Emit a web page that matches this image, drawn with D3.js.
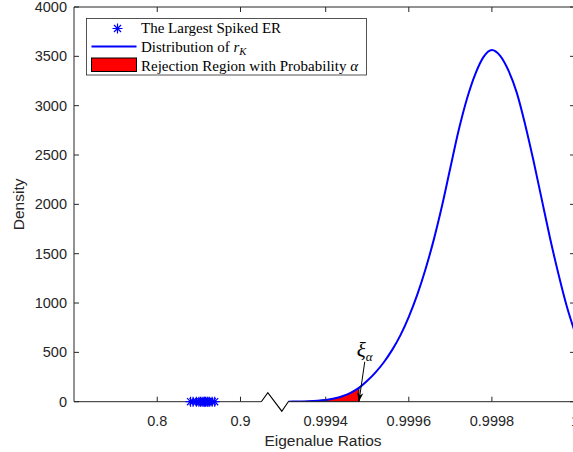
<!DOCTYPE html>
<html><head><meta charset="utf-8">
<script src="https://cdn.jsdelivr.net/npm/d3@7"></script>
<style>
html,body{margin:0;padding:0;background:#fff;overflow:hidden}
svg{display:block}
</style></head>
<body>
<svg id="chart" width="573" height="452"></svg>
<script>
// ---------- data ----------
const densityX = [0.99931,0.99932,0.99934,0.99936,0.99938,0.99940,0.99942,0.99944,0.99946,0.99948,
  0.99950,0.99952,0.99954,0.99956,0.99958,0.99960,0.99962,0.99964,0.99966,0.99968,
  0.99970,0.99972,0.99974,0.99976,0.99978,0.99980,0.99982,0.99984,0.99986,0.99988,
  0.99990,0.99992,0.99994,0.99996,0.99998,1.00000];
const densityY = [0,1,2,5,10,18,32,55,90,140,
  212,298,400,525,675,860,1080,1340,1640,1985,
  2370,2750,3070,3320,3495,3565,3505,3355,3130,2810,
  2444,2050,1656,1297,970,700];
const spikedER = [0.840,0.843,0.847,0.850,0.852,0.854,0.856,0.857,0.858,0.860,0.861,0.863,0.866,0.869];
const xiAlpha = 0.99948;
const arrowFrom = {x:0.999494, y:405};
const labelPos = {x:0.999475, y:448};
const xTicks = [0.8,0.9,0.9994,0.9996,0.9998,1];
const xTickLabels = ["0.8","0.9","0.9994","0.9996","0.9998","1"];
const yTicks = [0,500,1000,1500,2000,2500,3000,3500,4000];
const breakLow = 0.925, breakHigh = 0.99931;

// ---------- layout ----------
const L=74, R=575, T=7, B=401.7;
const axisCol="#262626";
const svg=d3.select("#chart");
const x=d3.scaleLinear().domain([0.7,breakLow,breakHigh,1.0]).range([L,261.3,288.3,R]);
const y=d3.scaleLinear().domain([0,4000]).range([B,T]);

const data=densityX.map((d,i)=>({x:d,y:densityY[i]}));
const areaData=data.filter(d=>d.x<=xiAlpha+1e-12);

const defs=svg.append("defs");
defs.append("clipPath").attr("id","clip").append("rect").attr("x",L).attr("y",T).attr("width",R-L).attr("height",B-T);
defs.append("marker").attr("id","arr").attr("viewBox","0 0 10 10").attr("refX",10).attr("refY",5)
  .attr("markerWidth",9).attr("markerHeight",9).attr("orient","auto")
  .append("path").attr("d","M0,1.5 L10,5 L0,8.5 L3,5 Z").attr("fill","#000");

const g=svg.append("g");
const plot=g.append("g").attr("clip-path","url(#clip)");
plot.append("path").datum(areaData)
  .attr("d",d3.area().x(d=>x(d.x)).y0(y(0)).y1(d=>y(d.y)).curve(d3.curveMonotoneX))
  .attr("fill","#ff0000").attr("stroke","#000").attr("stroke-width",1);

// axes (box)
const ax=g.append("g").attr("stroke",axisCol).attr("stroke-width",1).attr("fill","none");
ax.append("line").attr("x1",L).attr("x2",R).attr("y1",T).attr("y2",T);
ax.append("line").attr("x1",L).attr("x2",L).attr("y1",T).attr("y2",B);
ax.append("line").attr("x1",R).attr("x2",R).attr("y1",T).attr("y2",B);
ax.append("line").attr("x1",L).attr("x2",x(breakLow)).attr("y1",B).attr("y2",B);
ax.append("line").attr("x1",x(breakHigh)).attr("x2",R).attr("y1",B).attr("y2",B);
ax.append("path").attr("stroke","#000").attr("stroke-width",1.1)
  .attr("d",`M${x(breakLow)},${B} L${x(breakLow)+6.5},${B-9} L${x(breakHigh)-6.5},${B+9.5} L${x(breakHigh)},${B}`);

xTicks.forEach(t=>{
  ax.append("line").attr("x1",x(t)).attr("x2",x(t)).attr("y1",B).attr("y2",B-5);
  ax.append("line").attr("x1",x(t)).attr("x2",x(t)).attr("y1",T).attr("y2",T+5);
});
yTicks.forEach(t=>{
  ax.append("line").attr("x1",L).attr("x2",L+5).attr("y1",y(t)).attr("y2",y(t));
  ax.append("line").attr("x1",R).attr("x2",R-5).attr("y1",y(t)).attr("y2",y(t));
});
const lab=g.append("g").attr("font-family","'Liberation Sans',Arial,sans-serif").attr("fill",axisCol).attr("font-size","14.5px");
xTicks.forEach((t,i)=>{
  lab.append("text").attr("x",x(t)).attr("y",426).attr("text-anchor","middle").text(xTickLabels[i]);
});
yTicks.forEach(t=>{
  lab.append("text").attr("x",67).attr("y",y(t)+5).attr("text-anchor","end").text(t);
});
lab.append("text").attr("x",323).attr("y",446).attr("text-anchor","middle").attr("font-size","15.5px").text("Eigenalue Ratios");
lab.append("text").attr("transform",`translate(24,${(T+B)/2}) rotate(-90)`).attr("text-anchor","middle").attr("font-size","15.5px").text("Density");

plot.append("path").datum(data)
  .attr("d",d3.line().x(d=>x(d.x)).y(d=>y(d.y)).curve(d3.curveMonotoneX))
  .attr("fill","none").attr("stroke","#0000ff").attr("stroke-width",2);

function star(sel,cx,cy,r){
  const p=[];
  for(let k=0;k<4;k++){const a=k*Math.PI/4;p.push(`M${cx-r*Math.cos(a)},${cy-r*Math.sin(a)}L${cx+r*Math.cos(a)},${cy+r*Math.sin(a)}`);}
  sel.append("path").attr("d",p.join("")).attr("stroke","#0000ff").attr("stroke-width",1.2).attr("fill","none");
}
const stars=g.append("g");
spikedER.forEach(v=>star(stars,x(v),y(0),5));

g.append("line").attr("x1",x(arrowFrom.x)).attr("y1",y(arrowFrom.y)).attr("x2",x(xiAlpha)).attr("y2",y(0))
  .attr("stroke","#000").attr("stroke-width",1).attr("marker-end","url(#arr)");
const ann=g.append("text").attr("x",x(labelPos.x)).attr("y",y(labelPos.y)).attr("font-family","'Liberation Serif',serif").attr("font-size","21px").attr("fill","#000");
ann.append("tspan").attr("font-style","italic").text("ξ");
ann.append("tspan").attr("font-style","italic").attr("font-size","13px").attr("dy",4).text("α");

const lg=g.append("g");
lg.append("rect").attr("x",86.5).attr("y",18.5).attr("width",280).attr("height",56.5).attr("fill","#fff").attr("stroke","#2a2a2a").attr("stroke-width",0.8);
star(lg,117.5,28.5,5);
lg.append("line").attr("x1",91.5).attr("x2",136.5).attr("y1",46.5).attr("y2",46.5).attr("stroke","#0000ff").attr("stroke-width",2);
lg.append("rect").attr("x",91.5).attr("y",58).attr("width",45).attr("height",13.5).attr("fill","#ff0000").attr("stroke","#000").attr("stroke-width",1);
const lt=lg.append("g").attr("font-family","'Liberation Serif',serif").attr("font-size","15px").attr("fill","#000");
lt.append("text").attr("x",141).attr("y",33).text("The Largest Spiked ER");
const t2=lt.append("text").attr("x",141).attr("y",51.5);
t2.append("tspan").text("Distribution of ");
t2.append("tspan").attr("font-style","italic").text("r");
t2.append("tspan").attr("font-style","italic").attr("font-size","10.5px").attr("dy",3).text("K");
const t3=lt.append("text").attr("x",141).attr("y",70.5);
t3.append("tspan").text("Rejection Region with Probability ");
t3.append("tspan").attr("font-style","italic").text("α");
</script>
</body></html>
